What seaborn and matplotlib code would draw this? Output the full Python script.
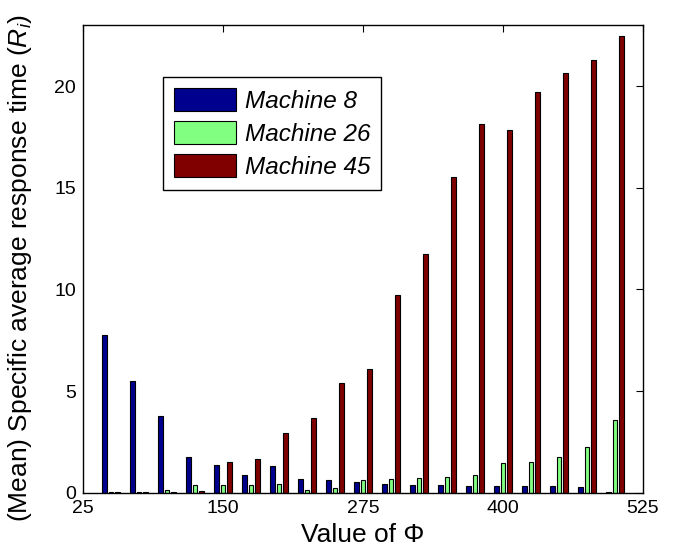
import matplotlib
matplotlib.use("Agg")
import matplotlib.pyplot as plt
from matplotlib.patches import Patch
import seaborn as sns
import pandas as pd

# ---- data ----
phi = [50, 75, 100, 125, 150, 175, 200, 225, 250, 275,
       300, 325, 350, 375, 400, 425, 450, 475, 500]
machine8 = [7.76, 5.49, 3.78, 1.74, 1.35, 0.85, 1.30, 0.67, 0.62, 0.52,
            0.42, 0.38, 0.40, 0.35, 0.33, 0.33, 0.33, 0.28, 0.03]
machine26 = [0.03, 0.02, 0.11, 0.37, 0.37, 0.39, 0.41, 0.13, 0.25, 0.62,
             0.66, 0.71, 0.77, 0.85, 1.44, 1.50, 1.75, 2.25, 3.56]
machine45 = [0.02, 0.03, 0.05, 0.08, 1.50, 1.66, 2.94, 3.67, 5.38, 6.07,
             9.74, 11.73, 15.51, 18.15, 17.85, 19.69, 20.64, 21.30, 22.45]
series_names = ["Machine 8", "Machine 26", "Machine 45"]
colors = ["#00008F", "#80FF80", "#800000"]
xticks = [25, 150, 275, 400, 525]
yticks = [0, 5, 10, 15, 20]

df = pd.concat([
    pd.DataFrame({"phi": phi, "value": vals, "machine": name})
    for name, vals in zip(series_names, [machine8, machine26, machine45])
], ignore_index=True)

sns.set_theme(style="white")
plt.rcParams["font.family"] = ["Liberation Sans", "DejaVu Sans"]
plt.rcParams["mathtext.fontset"] = "custom"
plt.rcParams["mathtext.rm"] = "Liberation Sans"
plt.rcParams["mathtext.it"] = "Liberation Sans:italic"
plt.rcParams["text.color"] = "black"
plt.rcParams["axes.labelcolor"] = "black"
plt.rcParams["xtick.color"] = "black"
plt.rcParams["ytick.color"] = "black"

fig = plt.figure(figsize=(6.87, 5.55), dpi=100)
ax = fig.add_axes([83 / 687, 1 - 492.7 / 555, 560 / 687, 467.7 / 555])

sns.barplot(data=df, x="phi", y="value", hue="machine",
            hue_order=series_names, palette=colors, saturation=1,
            native_scale=True, width=0.667, gap=0.2,
            errorbar=None, edgecolor="black", linewidth=0.8,
            legend=False, ax=ax)

ax.set_xlim(25, 525)
ax.set_ylim(0, 23)
ax.set_xticks(xticks)
ax.set_yticks(yticks)
ax.set_xticklabels([str(t) for t in xticks])
ax.set_yticklabels([str(t) for t in yticks])
ax.tick_params(direction="in", top=True, right=True, length=5, width=0.8,
               labelsize=14, colors="black", pad=5)
for s in ax.spines.values():
    s.set_visible(True)
    s.set_color("black")
    s.set_linewidth(1.0)

ax.set_xlabel("Value of Φ", fontsize=19, color="black")
ax.set_ylabel("(Mean) Specific average response time ($R_i$)", fontsize=19,
              color="black")
ax.xaxis.set_label_coords(0.5, -0.065)
ax.yaxis.set_label_coords(-0.088, 0.48)

handles = [Patch(facecolor=c, edgecolor="black", linewidth=0.8) for c in colors]
leg = ax.legend(handles, series_names, loc="upper left",
                bbox_to_anchor=(0.143, 0.889), borderaxespad=0,
                prop={"style": "italic", "size": 17.5},
                handlelength=2.55, handleheight=1.1, handletextpad=0.37,
                labelspacing=0.33, borderpad=0.45, fancybox=False,
                frameon=True, framealpha=1)
leg.get_frame().set_edgecolor("black")
leg.get_frame().set_linewidth(1.0)
for t in leg.get_texts():
    t.set_color("black")

fig.savefig("out.png", dpi=100)
